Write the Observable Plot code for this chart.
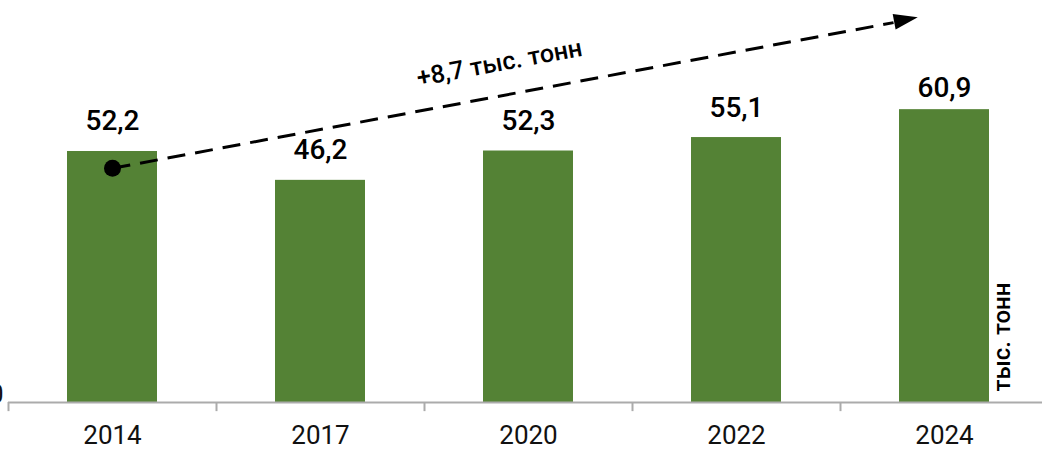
<!DOCTYPE html>
<html>
<head>
<meta charset="utf-8">
<script src="https://cdn.jsdelivr.net/npm/d3@7"></script>
<script src="https://cdn.jsdelivr.net/npm/@observablehq/plot@0.6"></script>
<style>
  html, body { margin: 0; padding: 0; background: #fff; overflow: hidden; }
  svg { overflow: visible; }
</style>
</head>
<body>
<div id="chart"></div>
<script>
// ---- data ----
const years = ["2014", "2017", "2020", "2022", "2024"];
const values = [52.2, 46.2, 52.3, 55.1, 60.9];
const valueLabels = ["52,2", "46,2", "52,3", "55,1", "60,9"];
const yTicks = [0];
const trendX = [0, 3.755];      // category index positions of the trend arrow
const trendY = [48.7, 79.0];    // value positions of the trend arrow
const headX = [3.81];
const headY = [79.6];
const trendLabel = ["+8,7 тыс. тонн"];
const trendLabelX = [1.86];
const trendLabelY = [70.6];
const unitLabel = ["тыс. тонн"];

const idx = years.map((d, i) => i);
const barHalf = 0.2163;
const green = "#548235";

const arrowHead = {
  draw(context) {
    context.moveTo(0, -13);
    context.lineTo(8, 11);
    context.lineTo(-8, 11);
    context.closePath();
  }
};

const angle = Math.atan2(
  (trendY[1] - trendY[0]) * 4.809,
  (trendX[1] - trendX[0]) * 208
) * 180 / Math.PI;

const chart = Plot.plot({
  width: 1042,
  height: 449,
  marginLeft: 8,
  marginRight: 0,
  marginTop: 0,
  marginBottom: 47,
  style: { fontFamily: "Roboto", background: "white", color: "#111" },
  x: { type: "linear", domain: [-0.5, 4.5], range: [8, 1048], axis: null },
  y: { domain: [0, 83.6], axis: null },
  marks: [
    Plot.rectY(idx, {
      x1: i => i - barHalf,
      x2: i => i + barHalf,
      y: i => values[i],
      fill: green
    }),
    Plot.ruleY([0], { stroke: "#ababab", strokeWidth: 2 }),
    Plot.ruleX(idx, { x: i => i - 0.5, y1: 0, y2: -1.9, stroke: "#ababab", strokeWidth: 2 }),
    Plot.axisX(idx, {
      tickFormat: i => years[i],
      tickSize: 0,
      tickPadding: 23,
      fontSize: 26,
      fill: "#111"
    }),
    Plot.axisY(yTicks, {
      anchor: "left",
      tickSize: 0,
      tickPadding: 5,
      fontSize: 26,
      dy: -8,
      fill: "#111"
    }),
    Plot.text(idx.filter(i => i < 4), {
      x: i => i,
      y: i => values[i],
      text: i => valueLabels[i],
      dy: -30,
      fontSize: 28,
      fontWeight: 500,
      fill: "#000"
    }),
    Plot.text(idx.filter(i => i === 4), {
      x: i => i,
      y: i => values[i],
      text: i => valueLabels[i],
      dy: -22,
      fontSize: 28,
      fontWeight: 500,
      fill: "#000"
    }),
    Plot.link([0], {
      x1: () => trendX[0],
      y1: () => trendY[0],
      x2: () => trendX[1],
      y2: () => trendY[1],
      stroke: "#000",
      strokeWidth: 3,
      strokeDasharray: "18,10"
    }),
    Plot.dot([0], {
      x: () => trendX[0],
      y: () => trendY[0],
      r: 8.5,
      fill: "#000"
    }),
    Plot.dot([0], {
      x: () => headX[0],
      y: () => headY[0],
      symbol: arrowHead,
      r: 8,
      rotate: 90 - angle,
      fill: "#000",
      stroke: "none"
    }),
    Plot.text(trendLabel, {
      x: () => trendLabelX[0],
      y: () => trendLabelY[0],
      text: d => d,
      rotate: -angle,
      fontSize: 25,
      fontWeight: 500,
      fill: "#000"
    }),
    Plot.text(unitLabel, {
      frameAnchor: "bottom-right",
      text: d => d,
      rotate: -90,
      textAnchor: "start",
      dx: -33,
      dy: -11,
      fontSize: 24,
      fontWeight: 500,
      fill: "#000"
    })
  ]
});
document.getElementById("chart").appendChild(chart);
</script>
</body>
</html>
